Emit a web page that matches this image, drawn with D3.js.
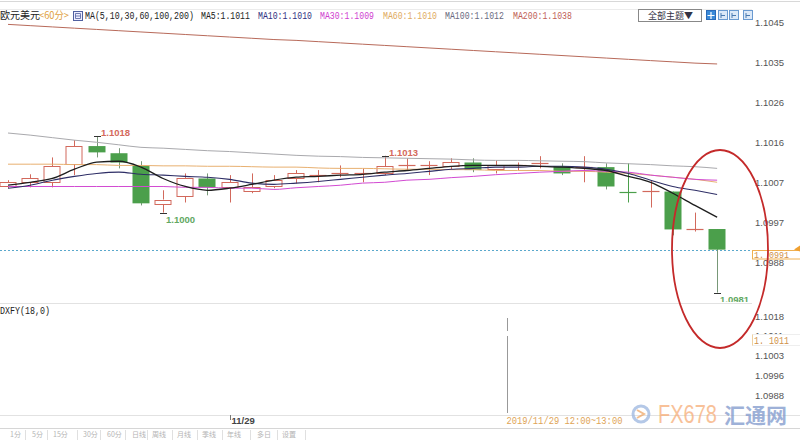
<!DOCTYPE html>
<html><head><meta charset="utf-8">
<script src="https://cdn.jsdelivr.net/npm/d3@7/dist/d3.min.js"></script>
<style>body{margin:0;background:#fff}svg{display:block}</style>
</head><body>
<svg id="c" width="800" height="444"></svg>
<script>
// ---------------- DATA ----------------
const times = ["11/28 14:00","11/28 15:00","11/28 16:00","11/28 17:00","11/28 18:00","11/28 19:00","11/28 20:00","11/28 21:00","11/28 22:00","11/28 23:00",
  "11/29 00:00","11/29 01:00","11/29 02:00","11/29 03:00","11/29 04:00","11/29 05:00","11/29 06:00","11/29 07:00","11/29 08:00","11/29 09:00",
  "11/29 10:00","11/29 11:00","11/29 12:00","11/29 13:00","11/29 14:00","11/29 15:00","11/29 16:00","11/29 17:00","11/29 18:00","11/29 19:00",
  "11/29 20:00","11/29 21:00","11/29 22:00"];
const open  = [1.10061,1.10071,1.10071,1.10114,1.10157,1.10140,1.10111,1.10021,1.10038,1.10080,1.10059,1.10049,1.10061,1.10080,1.10087,1.10091,1.10091,1.10093,1.10110,1.10110,1.10109,1.10118,1.10102,1.10110,1.10115,1.10109,1.10105,1.10107,1.10050,1.10049,1.10049,1.09958,1.09960];
const high  = [1.10076,1.10090,1.10130,1.10171,1.10181,1.10152,1.10121,1.10052,1.10092,1.10092,1.10088,1.10092,1.10088,1.10100,1.10100,1.10111,1.10104,1.10134,1.10128,1.10121,1.10128,1.10128,1.10123,1.10118,1.10133,1.10116,1.10133,1.10116,1.10116,1.10076,1.10049,1.09999,1.09960];
const low   = [1.10057,1.10059,1.10059,1.10088,1.10130,1.10104,1.10016,1.09999,1.10023,1.10040,1.10023,1.10045,1.10057,1.10068,1.10071,1.10083,1.10071,1.10088,1.10100,1.10088,1.10102,1.10095,1.10092,1.10100,1.10104,1.10088,1.10071,1.10054,1.10023,1.10011,1.09945,1.09954,1.09809];
const close = [1.10071,1.10080,1.10109,1.10157,1.10142,1.10118,1.10021,1.10030,1.10080,1.10059,1.10071,1.10059,1.10076,1.10092,1.10089,1.10093,1.10093,1.10109,1.10112,1.10112,1.10118,1.10100,1.10111,1.10112,1.10117,1.10092,1.10107,1.10061,1.10049,1.10050,1.09959,1.09960,1.09911];

const ma5   = [1.10064,1.10071,1.10080,1.10102,1.10119,1.10121,1.10107,1.10080,1.10061,1.10052,1.10057,1.10066,1.10076,1.10083,1.10085,1.10088,1.10090,1.10095,1.10099,1.10104,1.10109,1.10111,1.10111,1.10111,1.10109,1.10107,1.10104,1.10099,1.10085,1.10071,1.10045,1.10016,1.09988];
const ma10  = [1.10057,1.10064,1.10076,1.10085,1.10092,1.10095,1.10090,1.10088,1.10085,1.10083,1.10078,1.10069,1.10066,1.10069,1.10073,1.10078,1.10083,1.10088,1.10092,1.10097,1.10102,1.10104,1.10107,1.10107,1.10109,1.10109,1.10107,1.10102,1.10092,1.10076,1.10061,1.10052,1.10042];
const ma30  = [1.10061,1.10061,1.10061,1.10061,1.10061,1.10061,1.10061,1.10061,1.10059,1.10059,1.10057,1.10057,1.10054,1.10058,1.10061,1.10064,1.10069,1.10071,1.10076,1.10078,1.10082,1.10085,1.10089,1.10092,1.10095,1.10097,1.10099,1.10097,1.10095,1.10088,1.10083,1.10078,1.10076];
const ma60  = [1.10114,1.10114,1.10114,1.10113,1.10113,1.10111,1.10111,1.10110,1.10110,1.10109,1.10109,1.10108,1.10107,1.10107,1.10105,1.10104,1.10104,1.10103,1.10102,1.10102,1.10101,1.10101,1.10099,1.10099,1.10099,1.10097,1.10097,1.10095,1.10092,1.10088,1.10083,1.10078,1.10071];
const ma100 = [1.10188,1.10183,1.10177,1.10171,1.10166,1.10160,1.10154,1.10152,1.10149,1.10146,1.10144,1.10141,1.10138,1.10135,1.10133,1.10132,1.10130,1.10129,1.10128,1.10127,1.10126,1.10124,1.10123,1.10123,1.10122,1.10121,1.10120,1.10117,1.10115,1.10113,1.10110,1.10108,1.10104];
const ma200 = [1.10446,1.10443,1.10440,1.10437,1.10434,1.10431,1.10428,1.10425,1.10422,1.10419,1.10416,1.10413,1.10410,1.10408,1.10405,1.10402,1.10399,1.10396,1.10393,1.10390,1.10387,1.10384,1.10381,1.10378,1.10375,1.10372,1.10369,1.10366,1.10363,1.10360,1.10357,1.10354,1.10352];

const mainTicks = [1.1045,1.10355,1.1026,1.10165,1.1007,1.09975,1.0988];
const mainTickLabels = ["1.1045","1.1035","1.1026","1.1016","1.1007","1.0997","1.0988"];
const subTicks = [1.1018,1.10105,1.1003,1.09955,1.0988];
const subTickLabels = ["1.1018","1.1011","1.1003","1.0996","1.0988"];
const lastPrice = 1.0991, lastPriceLabel = "1. 0991";
const subValue = 1.1011, subValueLabel = "1. 1011";
const dateTicks = ["11/29 00:00"], dateTickLabels = ["11/29"];
const cursorTime = "11/29 12:00", cursorLabel = "2019/11/29 12:00~13:00";
const highMarks = ["11/28 18:00","11/29 07:00"], lowMarks = ["11/28 21:00","11/29 22:00"];
const legendTexts = ["欧元美元","<60分>","MA(5,10,30,60,100,200)","MA5:1.1011","MA10:1.1010","MA30:1.1009","MA60:1.1010","MA100:1.1012","MA200:1.1038"];
const indicatorName = "DXFY(18,0)";
const toolbarLabels = ["1分","5分","15分","30分","60分","日线","周线","月线","季线","年线","多日","设置"];

// ---------------- LAYOUT ----------------
const svg = d3.select("#c");
svg.append("rect").attr("width",800).attr("height",444).attr("fill","#fff");
const x = d3.scaleBand().domain(times).range([-3.08, 728.2]);
const cx = t => x(t) + x.bandwidth()/2;
const y = d3.scaleLinear().domain([1.1045, 1.0988]).range([22.7, 262.7]);
const ySub = d3.scaleLinear().domain([1.1018, 1.0988]).range([316, 395]);
const mono = "'Liberation Mono','DejaVu Sans Mono',monospace";
const cjk = "'Noto Sans CJK SC','Liberation Mono',sans-serif";
const sans = "'Liberation Sans',Arial,sans-serif";

// narrow monospace text (SimSun-like half-width ASCII): Liberation Mono squeezed horizontally
function monoText(px, py, str, color, targetW, size){
  size = size || 10;
  const nat = str.length * 0.6 * size;
  const k = targetW / nat;
  const g = svg.append("g").attr("transform",`translate(${px},${py}) scale(${k},1)`);
  g.append("text").attr("x",0).attr("y",0).text(str).attr("font-family",mono).attr("font-size",size).attr("fill",color);
  return g;
}

// frame lines
svg.append("line").attr("x1",0).attr("x2",800).attr("y1",1.5).attr("y2",1.5).attr("stroke","#d8d8d8");
svg.append("line").attr("x1",0).attr("x2",752).attr("y1",9.5).attr("y2",9.5).attr("stroke","#ececec");
svg.append("line").attr("x1",0).attr("x2",752).attr("y1",303.5).attr("y2",303.5).attr("stroke","#e2e2e2");
svg.append("line").attr("x1",0).attr("x2",800).attr("y1",415.5).attr("y2",415.5).attr("stroke","#e2e2e2");
svg.append("line").attr("x1",0).attr("x2",800).attr("y1",428.5).attr("y2",428.5).attr("stroke","#d6d6d6");

// clip for main panel
svg.append("defs").append("clipPath").attr("id","clipMain")
  .append("rect").attr("x",0).attr("y",10).attr("width",752).attr("height",292);
const gMain = svg.append("g").attr("clip-path","url(#clipMain)");

// last price dashed line
gMain.append("line").attr("x1",0).attr("x2",752).attr("y1",Math.round(y(lastPrice))+0.5).attr("y2",Math.round(y(lastPrice))+0.5)
  .attr("stroke","#5aa8cc").attr("stroke-dasharray","2,2");

// candles
const data = times.map((t,i)=>({t,o:open[i],h:high[i],l:low[i],c:close[i]}));
const upCol = "#d2695c", dnCol = "#4b9f4b";
const bw = 17;
data.forEach(d=>{
  const c = Math.round(cx(d.t));
  const up = d.c >= d.o;
  const yo = y(d.o), yc = y(d.c), yh = y(d.h), yl = y(d.l);
  const top = Math.min(yo,yc), bot = Math.max(yo,yc);
  const doji = bot - top < 1.5;
  const col = up ? upCol : dnCol;
  const wickCol = up ? upCol : "#789878";
  if (doji) {
    gMain.append("line").attr("x1",c+0.5).attr("x2",c+0.5).attr("y1",yh).attr("y2",yl).attr("stroke",col);
    gMain.append("line").attr("x1",c-bw/2).attr("x2",c+bw/2).attr("y1",Math.round(yc)+0.5).attr("y2",Math.round(yc)+0.5).attr("stroke",col).attr("stroke-width",1.2);
  } else if (up) {
    gMain.append("line").attr("x1",c+0.5).attr("x2",c+0.5).attr("y1",yh).attr("y2",top).attr("stroke",wickCol);
    gMain.append("line").attr("x1",c+0.5).attr("x2",c+0.5).attr("y1",bot).attr("y2",yl).attr("stroke",wickCol);
    gMain.append("rect").attr("x",c-bw/2+0.5).attr("y",Math.round(top)+0.5).attr("width",bw-1).attr("height",Math.max(1,Math.round(bot-top)))
      .attr("fill","#fff").attr("stroke",col);
  } else {
    gMain.append("line").attr("x1",c+0.5).attr("x2",c+0.5).attr("y1",yh).attr("y2",yl).attr("stroke",wickCol);
    gMain.append("rect").attr("x",c-bw/2).attr("y",top).attr("width",bw).attr("height",bot-top).attr("fill",dnCol);
  }
});

// moving averages
const maSeries = [
  {v:ma200,col:"#b86a5a",w:1},
  {v:ma100,col:"#a9a9ad",w:1},
  {v:ma60,col:"#e8b070",w:1},
  {v:ma30,col:"#d24ad2",w:1},
  {v:ma10,col:"#2e2e66",w:1.1},
  {v:ma5,col:"#1e1e1e",w:1.3}
];
const line = d3.line().x((d,i)=>cx(times[i])).y(d=>y(d)).curve(d3.curveMonotoneX);
maSeries.forEach(s=>{
  gMain.append("path").attr("d",line(s.v)).attr("fill","none").attr("stroke",s.col).attr("stroke-width",s.w);
});

// high / low marks
highMarks.forEach(t=>{
  const i = times.indexOf(t), c = Math.round(cx(t)), yy = Math.round(y(high[i]))+0.5;
  gMain.append("line").attr("x1",c-3).attr("x2",c+4).attr("y1",yy).attr("y2",yy).attr("stroke","#333");
  gMain.append("text").attr("x",c+4).attr("y",yy-1).text(high[i].toFixed(4))
    .attr("font-family",sans).attr("font-weight","bold").attr("font-size",9.5).attr("fill","#d46a5c");
});
lowMarks.forEach(t=>{
  const i = times.indexOf(t), c = Math.round(cx(t)), yy = Math.round(y(low[i]))+0.5;
  gMain.append("line").attr("x1",c-3).attr("x2",c+4).attr("y1",yy).attr("y2",yy).attr("stroke","#333");
  gMain.append("text").attr("x",c+3).attr("y",yy+9).text(low[i].toFixed(4))
    .attr("font-family",sans).attr("font-weight","bold").attr("font-size",9.5).attr("fill","#62a862");
});

// right axis main
const axMain = d3.axisRight(y).tickValues(mainTicks).tickFormat((d,i)=>mainTickLabels[i]).tickSize(0).tickPadding(0);
const gAx = svg.append("g").attr("transform","translate(755,0)").call(axMain);
gAx.select(".domain").remove();
gAx.attr("font-family",sans).attr("font-size",9.5);
gAx.selectAll("text").attr("fill","#555");

// last price box
const yLP = Math.round(y(lastPrice))+0.5;
svg.append("rect").attr("x",752.5).attr("y",yLP).attr("width",50).attr("height",8.5).attr("fill","#fff").attr("stroke","#f0b050");
monoText(754, yLP+7.5, lastPriceLabel, "#d09048", 35, 9);
svg.append("path").attr("d",`M794,${yLP-1} L800,${yLP-5} L800,${yLP+1} Z`).attr("fill","#f0a030");

// lower panel axis
const axSub = d3.axisRight(ySub).tickValues(subTicks).tickFormat((d,i)=>subTickLabels[i]).tickSize(0).tickPadding(0);
const gAx2 = svg.append("g").attr("transform","translate(755,0)").call(axSub);
gAx2.select(".domain").remove();
gAx2.attr("font-family",sans).attr("font-size",9.5);
gAx2.selectAll("text").attr("fill","#555");
const ySV = Math.round(ySub(subValue))+0.5;
svg.append("rect").attr("x",752.5).attr("y",ySV).attr("width",50).attr("height",11).attr("fill","#fff").attr("stroke","#eeeeee");
svg.append("line").attr("x1",752.5).attr("x2",752.5).attr("y1",ySV).attr("y2",ySV+11).attr("stroke","#f0d0a0");
monoText(754, ySV+9.5, subValueLabel, "#d09048", 35, 10);

// indicator name
monoText(0, 314, indicatorName, "#222", 50, 10);

// cursor line
const curX = Math.round(x(cursorTime) + x.step()) + 0.5;
svg.append("line").attr("x1",curX).attr("x2",curX).attr("y1",318).attr("y2",331).attr("stroke","#999");
svg.append("line").attr("x1",curX).attr("x2",curX).attr("y1",336).attr("y2",413).attr("stroke","#999");
monoText(curX-1, 424, cursorLabel, "#e0a456", 116, 10);

// date ticks
dateTicks.forEach((t,i)=>{
  const xx = Math.round(cx(t))+0.5;
  svg.append("line").attr("x1",xx).attr("x2",xx).attr("y1",415).attr("y2",420).attr("stroke","#777");
  svg.append("text").attr("x",xx+1).attr("y",424).text(dateTickLabels[i]).attr("font-family",sans).attr("font-weight","bold")
    .attr("font-size",9.5).attr("fill","#444");
});

// toolbar
const tbX = [10,32,53,83,107,132,152,177,202,227,257,282];
const tbSep = [25,47,77,100,125,147,172,197,222,250,277,305];
toolbarLabels.forEach((s,i)=>{
  svg.append("text").attr("x",tbX[i]).attr("y",437).text(s).attr("font-family",cjk).attr("font-size",7).attr("fill","#b4b4b4");
  svg.append("line").attr("x1",tbSep[i]+0.5).attr("x2",tbSep[i]+0.5).attr("y1",430).attr("y2",440).attr("stroke","#e0e0e0");
});

// header legend
const legX = [0,39,85,201,258,320,383,445,513];
const legCol = ["#222","#e0a040","#222","#222","#303080","#d040d0","#e0aa60","#6a6a80","#c05e56"];
legendTexts.forEach((s,i)=>{
  if (/[\u2e80-\uffff]/.test(s)) {
    const len = Array.from(s).reduce((a,ch)=>a+(ch.charCodeAt(0)>0x2e80?10:5),0);
    svg.append("text").attr("x",legX[i]).attr("y",19).text(s).attr("font-family",cjk).attr("font-size",10)
      .attr("textLength",len).attr("lengthAdjust","spacingAndGlyphs").attr("fill",legCol[i]);
  } else {
    monoText(legX[i], 19, s, legCol[i], s.length*5 - 1, 10);
  }
});
// small icon in header
svg.append("rect").attr("x",73.5).attr("y",11.5).attr("width",9).attr("height",9).attr("fill","#eef").attr("stroke","#5060a0");
svg.append("path").attr("d","M75.5,13.5 h5 v5 h-5 Z M75.5,16 h5").attr("fill","none").attr("stroke","#5060a0").attr("stroke-width",0.8);

// theme button and icons
svg.append("rect").attr("x",638.5).attr("y",9.5).attr("width",63).attr("height",12).attr("fill","#fff").attr("stroke","#888");
svg.append("text").attr("x",648).attr("y",19).text("全部主题▼").attr("font-family",cjk).attr("font-size",9).attr("fill","#334");
const iconX = [706,718,729,743];
iconX.forEach((ix,i)=>{
  svg.append("rect").attr("x",ix+0.5).attr("y",10.5).attr("width",9).attr("height",9)
    .attr("fill",i===0?"#3a8ad8":"#dce9f8").attr("stroke",i===0?"#2a6ab8":"#6a9ad0");
  if(i===0){
    svg.append("path").attr("d",`M${ix+5},12 V19 M${ix+1.5},15.5 H${ix+8.5}`).attr("stroke","#fff").attr("stroke-width",1.2);
  } else {
    svg.append("path").attr("d",`M${ix+3},13 V18 M${ix+3},15.5 H${ix+7}`).attr("stroke","#4a7ab0").attr("stroke-width",1);
  }
});

// watermark
const wm = svg.append("g").attr("opacity",0.75);
wm.append("circle").attr("cx",641).attr("cy",414).attr("r",8).attr("fill","none").attr("stroke","#9cb6e0").attr("stroke-width",3);
wm.append("path").attr("d","M637,410 L644,414 L637,418").attr("fill","none").attr("stroke","#f0a868").attr("stroke-width",2);
wm.append("g").attr("transform","translate(658,423) scale(0.8,1)")
  .append("text").attr("x",0).attr("y",0).text("FX678").attr("font-family",sans).attr("font-size",25).attr("fill","#f6ad78");
wm.append("text").attr("x",724).attr("y",423).text("汇通网").attr("font-family",cjk).attr("font-weight","bold").attr("font-size",21).attr("fill","#7e98cc");

// red ellipse annotation
svg.append("ellipse").attr("cx",720).attr("cy",249).attr("rx",48).attr("ry",99).attr("fill","none")
  .attr("stroke","#c42a2a").attr("stroke-width",1.8);
</script>
</body></html>
